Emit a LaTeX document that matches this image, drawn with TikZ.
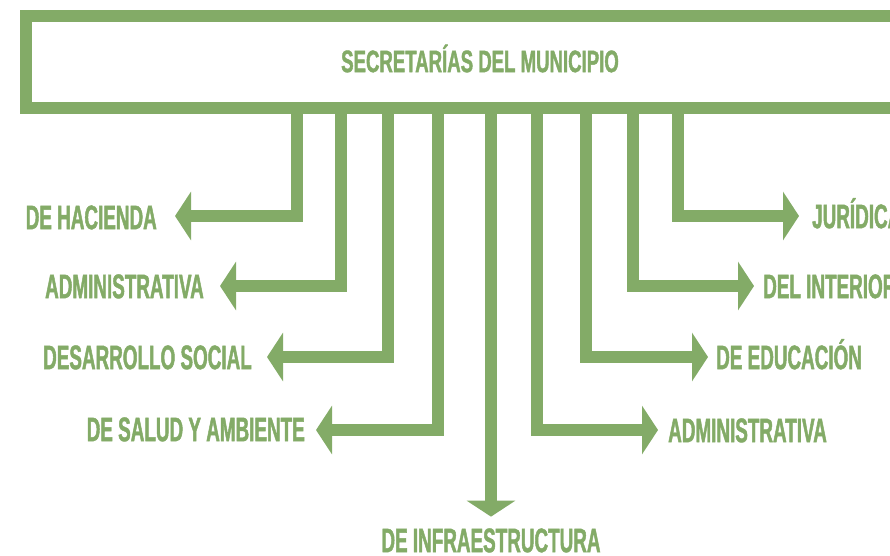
\documentclass[tikz,border=0pt]{standalone}
\usepackage{fontspec}
\setmainfont{Liberation Sans}[BoldFont={* Bold},BoldFeatures={FakeStretch=0.555,FakeBold=1.3}]
\newfontfamily\headfont{Liberation Sans Bold}[FakeStretch=0.6,FakeBold=1.3]
\usetikzlibrary{arrows.meta}
\definecolor{leaf}{HTML}{83AB67}
\begin{document}
\begin{tikzpicture}[x=1pt,y=-1pt,
  conn/.style={draw=leaf,line width=12pt,-{Triangle[length=16pt,width=48pt]}},
  lbl/.style={text=leaf,font=\bfseries\fontsize{34}{36}\selectfont,inner sep=0pt,text height=24.3pt,text depth=0pt},
  topbox/.style={draw=leaf,line width=12pt,minimum width=908pt,minimum height=92pt,inner sep=0pt}]
\useasboundingbox (0,0) rectangle (890,555);
\clip (0,0) rectangle (890,555);
\node[topbox] (top) at (480,62) {};
\node[lbl,font=\headfont\fontsize{31}{33}\selectfont,text height=22.2pt] (title) at (480,61) {SECRETARÍAS DEL MUNICIPIO};
% drop points
\coordinate (d1) at (297,108);
\coordinate (d2) at (341,108);
\coordinate (d3) at (388,108);
\coordinate (d4) at (438,108);
\coordinate (d5) at (491,108);
\coordinate (d6) at (537,108);
\coordinate (d7) at (586,108);
\coordinate (d8) at (633,108);
\coordinate (d9) at (678,108);
% labels
\node[lbl,anchor=east] (hac) at (157,217) {DE HACIENDA};
\node[lbl,anchor=east] (adm) at (204,286) {ADMINISTRATIVA};
\node[lbl,anchor=east] (des) at (252,357) {DESARROLLO SOCIAL};
\node[lbl,anchor=east] (sal) at (305,429) {DE SALUD Y AMBIENTE};
\node[lbl] (inf) at (491,540) {DE INFRAESTRUCTURA};
\node[lbl,anchor=west] (adr) at (668,430) {ADMINISTRATIVA};
\node[lbl,anchor=west] (edu) at (716,357) {DE EDUCACIÓN};
\node[lbl,anchor=west] (int) at (763,286) {DEL INTERIOR};
\node[lbl,anchor=west] (jur) at (812,216) {JURÍDICA};
% connectors
\draw[conn] (d1) |- ([xshift=18pt,yshift=1pt]hac.east);
\draw[conn] (d2) |- ([xshift=16pt]adm.east);
\draw[conn] (d3) |- ([xshift=15pt]des.east);
\draw[conn] (d4) |- ([xshift=11pt,yshift=-1pt]sal.east);
\draw[conn] (d5) -- ([yshift=11pt]inf.north);
\draw[conn] (d6) |- ([xshift=-10pt]adr.west);
\draw[conn] (d7) |- ([xshift=-8pt]edu.west);
\draw[conn] (d8) |- ([xshift=-9pt]int.west);
\draw[conn] (d9) |- ([xshift=-13pt]jur.west);
\end{tikzpicture}
\end{document}
